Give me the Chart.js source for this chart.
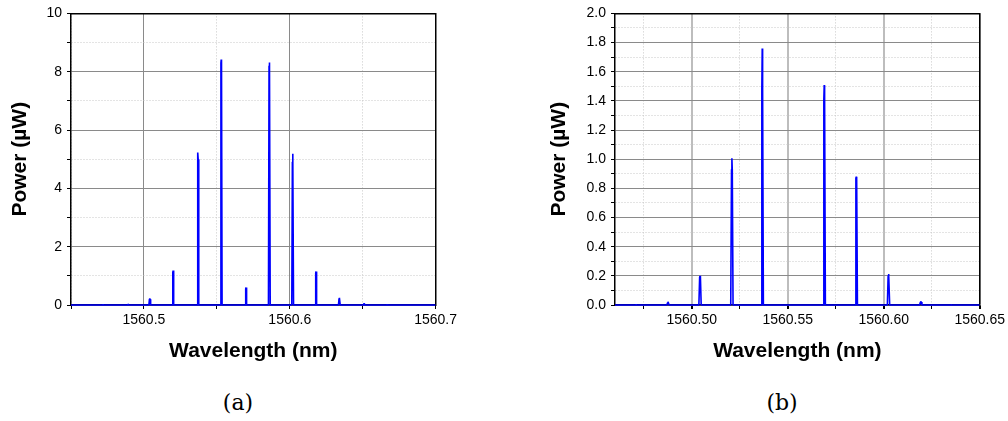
<!DOCTYPE html>
<html>
<head>
<meta charset="utf-8">
<script src="https://cdn.jsdelivr.net/npm/chart.js@4.4.1/dist/chart.umd.min.js"></script>
<style>
  body { margin: 0; background: #fff; width: 1008px; height: 421px; position: relative; overflow: hidden; }
  .box { position: absolute; top: 0; }
  .cap { position: absolute; top: 390px; font-family: "DejaVu Serif", serif; font-size: 22px; color: #000; transform: translateX(-50%); }
</style>
</head>
<body>
<div class="box" style="left:0"><canvas id="chartA" width="460" height="370"></canvas></div>
<div class="box" style="left:530px"><canvas id="chartB" width="478" height="370"></canvas></div>
<div class="cap" style="left:238px">(a)</div>
<div class="cap" style="left:782px">(b)</div>
<script>
// (a) spectrum peaks
const peakNmA = [1560.472, 1560.489, 1560.504, 1560.520, 1560.537, 1560.553, 1560.570, 1560.586, 1560.602, 1560.618, 1560.634, 1560.651, 1560.667];
const peakPowA = [0.01, 0.03, 0.22, 1.18, 5.23, 8.42, 0.6, 8.32, 5.19, 1.15, 0.25, 0.05, 0.02];
const shoulderA = [0.0, 0.02, 0.2, 1.1, 5.0, 8.3, 0.55, 8.2, 4.9, 1.1, 0.22, 0.04, 0.01];
const xMajorA = [1560.5, 1560.6, 1560.7];
const xMinorA = [1560.45, 1560.55, 1560.65];
const yMajorA = [0, 2, 4, 6, 8, 10];
const yMinorA = [1, 3, 5, 7, 9];

// (b) spectrum peaks
const peakNmB = [1560.471, 1560.4876, 1560.5043, 1560.5209, 1560.5367, 1560.569, 1560.5857, 1560.6025, 1560.6193, 1560.635];
const peakPowB = [0.005, 0.022, 0.2, 1.006, 1.76, 1.508, 0.88, 0.212, 0.025, 0.005];
const shoulderB = [0.0, 0.015, 0.19, 0.93, 1.48, 1.41, 0.87, 0.2, 0.02, 0.0];
const xMajorB = [1560.50, 1560.55, 1560.60, 1560.65];
const xMinorB = [1560.475, 1560.525, 1560.575, 1560.625];
const yMajorB = [0, 0.2, 0.4, 0.6, 0.8, 1.0, 1.2, 1.4, 1.6, 1.8, 2.0];
const yMinorB = [0.1, 0.3, 0.5, 0.7, 0.9, 1.1, 1.3, 1.5, 1.7, 1.9];

const HALF_WIDTH = 0.0006; // spectral half width of each line (nm)

function buildTrace(xMin, xMax, centers, peaks, shoulders) {
  let pts = [{ x: xMin, y: 0 }];
  centers.forEach((c, i) => {
    pts.push({ x: c - HALF_WIDTH, y: 0 });
    pts.push({ x: c - HALF_WIDTH / 3, y: shoulders[i] });
    pts.push({ x: c, y: peaks[i] });
    pts.push({ x: c + HALF_WIDTH / 3, y: shoulders[i] });
    pts.push({ x: c + HALF_WIDTH, y: 0 });
  });
  pts.push({ x: xMax, y: 0 });
  return pts;
}

function isIn(list, v) {
  return list.some((m) => Math.abs(m - v) < 1e-7);
}

function setTicks(majors, minors) {
  return (scale) => {
    scale.ticks = majors.concat(minors).sort((a, b) => a - b).map((v) => ({ value: v }));
  };
}

const tickFont = { family: "'Liberation Sans', Arial, sans-serif", size: 14 };
const titleFont = { family: "'Liberation Sans', Arial, sans-serif", size: 21, weight: "bold" };

function makeChart(id, o) {
  const ctx = document.getElementById(id).getContext("2d");
  const config = {
    type: "line",
    data: {
      datasets: [
        {
          data: buildTrace(o.xMin, o.xMax, o.centers, o.peaks, o.shoulders),
          borderColor: "#0000ff",
          borderWidth: 1.6,
          borderJoinStyle: "bevel",
          pointRadius: 0,
          tension: 0,
          clip: { left: 0, top: 0, right: 0, bottom: 2 },
        },
      ],
    },
    options: {
      responsive: false,
      animation: false,
      devicePixelRatio: 1,
      layout: { padding: { top: 11, right: o.padRight, left: 0, bottom: 0 } },
      plugins: { legend: { display: false }, tooltip: { enabled: false } },
      scales: {
        x: {
          type: "linear",
          min: o.xMin,
          max: o.xMax,
          afterBuildTicks: setTicks(o.xMajor, o.xMinor),
          afterFit: (s) => { s.height = 65; },
          ticks: {
            autoSkip: false,
            maxRotation: 0,
            padding: 3,
            color: "#000",
            font: tickFont,
            callback: (v) => (isIn(o.xMajor, v) ? v.toFixed(o.xDigits) : ""),
          },
          grid: {
            color: (c) => (isIn(o.xMajor, c.tick.value) ? o.vMajorColor : "#c8c8c8"),
            lineWidth: (c) => (isIn(o.xMajor, c.tick.value) ? o.vMajorWidth : 1),
            tickColor: "#000",
            tickLength: 4,
          },
          border: { color: "#000", width: 1.5, dash: (c) => (c.tick && isIn(o.xMajor, c.tick.value) ? [] : [1, 2]) },
          title: { display: true, text: "Wavelength (nm)", color: "#000", font: titleFont, padding: { top: 0, bottom: 6 } },
        },
        y: {
          type: "linear",
          min: 0,
          max: o.yMax,
          afterBuildTicks: setTicks(o.yMajor, o.yMinor),
          afterFit: (s) => { s.width = o.yWidth; },
          ticks: {
            autoSkip: false,
            padding: 5,
            color: "#000",
            font: tickFont,
            callback: (v) => (isIn(o.yMajor, v) ? v.toFixed(o.yDigits) : ""),
          },
          grid: {
            color: (c) => (isIn(o.yMajor, c.tick.value) ? "#8a8a8a" : "#c8c8c8"),
            lineWidth: 1,
            tickColor: "#000",
            tickLength: 4,
          },
          border: { color: "#000", width: 1.5, dash: (c) => (c.tick && isIn(o.yMajor, c.tick.value) ? [] : [1, 2]) },
          title: { display: true, text: "Power (µW)", color: "#000", font: titleFont, padding: { top: o.yTitlePad, bottom: 0 } },
        },
        x2: {
          type: "linear",
          position: "top",
          min: o.xMin,
          max: o.xMax,
          afterBuildTicks: setTicks(o.xMajor, o.xMinor),
          afterFit: (s) => { s.height = 0; },
          ticks: { display: false },
          grid: { drawOnChartArea: false, drawTicks: false },
          border: { color: "#000", width: 1.5 },
        },
        y2: {
          type: "linear",
          position: "right",
          min: 0,
          max: o.yMax,
          afterBuildTicks: setTicks(o.yMajor, o.yMinor),
          afterFit: (s) => { s.width = 0; },
          ticks: { display: false },
          grid: { drawOnChartArea: false, drawTicks: false },
          border: { color: "#000", width: 1.5 },
        },
      },
    },
  };
  return new Chart(ctx, config);
}

makeChart("chartA", {
  xMin: 1560.45, xMax: 1560.7, yMax: 10,
  centers: peakNmA, peaks: peakPowA, shoulders: shoulderA,
  xMajor: xMajorA, xMinor: xMinorA, yMajor: yMajorA, yMinor: yMinorA,
  xDigits: 1, yDigits: 0, yWidth: 71, yTitlePad: 8, padRight: 23,
  vMajorColor: "#8a8a8a", vMajorWidth: 1,
});

makeChart("chartB", {
  xMin: 1560.46, xMax: 1560.65, yMax: 2,
  centers: peakNmB, peaks: peakPowB, shoulders: shoulderB,
  xMajor: xMajorB, xMinor: xMinorB, yMajor: yMajorB, yMinor: yMinorB,
  xDigits: 2, yDigits: 1, yWidth: 85, yTitlePad: 17, padRight: 28,
  vMajorColor: "#bdbdbd", vMajorWidth: 2,
});
</script>
</body>
</html>
